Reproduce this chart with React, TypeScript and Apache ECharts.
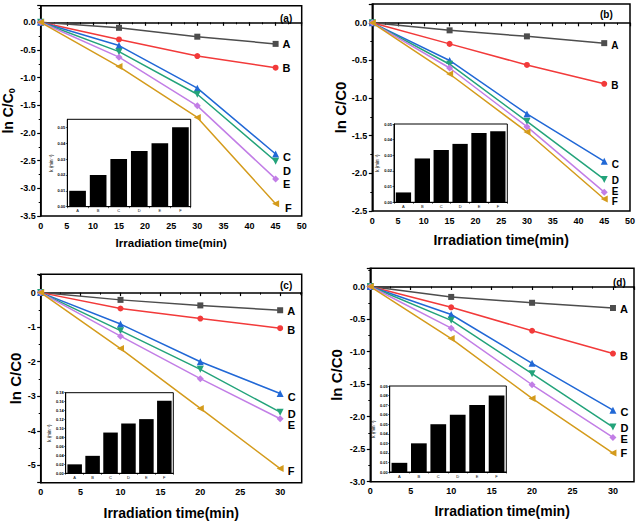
import React, { useEffect, useRef } from 'react';
import * as echarts from 'echarts';

const LETTERS = ['A', 'B', 'C', 'D', 'E', 'F'];
const TIME_AB = [0, 15, 30, 45];
const TIME_CD = [0, 10, 20, 30];

// ln C/C0 values, one row per sample A..F
const LN_A = [
  [0, -0.10, -0.26, -0.39],
  [0, -0.31, -0.61, -0.82],
  [0, -0.42, -1.19, -2.38],
  [0, -0.53, -1.30, -2.51],
  [0, -0.63, -1.51, -2.83],
  [0, -0.80, -1.72, -3.28],
];
const LN_B = [
  [0, -0.10, -0.18, -0.27],
  [0, -0.28, -0.56, -0.81],
  [0, -0.50, -1.21, -1.84],
  [0, -0.55, -1.31, -2.08],
  [0, -0.60, -1.38, -2.25],
  [0, -0.68, -1.45, -2.34],
];
const LN_C = [
  [0, -0.21, -0.37, -0.51],
  [0, -0.46, -0.75, -1.03],
  [0, -0.91, -2.00, -2.92],
  [0, -1.10, -2.22, -3.46],
  [0, -1.26, -2.49, -3.65],
  [0, -1.62, -3.35, -5.09],
];
const LN_D = [
  [0, -0.16, -0.25, -0.33],
  [0, -0.32, -0.68, -1.03],
  [0, -0.43, -1.18, -1.90],
  [0, -0.52, -1.34, -2.16],
  [0, -0.64, -1.51, -2.32],
  [0, -0.80, -1.72, -2.56],
];

// rate constants k (min^-1) for insets
const K_A = [0.010, 0.020, 0.030, 0.035, 0.040, 0.050];
const K_B = [0.0063, 0.028, 0.0334, 0.0373, 0.0442, 0.0453];
const K_C = [0.020, 0.039, 0.091, 0.111, 0.121, 0.162];
const K_D = [0.0096, 0.030, 0.050, 0.060, 0.070, 0.080];

const COLORS = ['#4d4d4d', '#f23a3a', '#2168d6', '#23a37a', '#c27ee6', '#d49b1c'];
const SYMBOLS = [
  'rect',
  'circle',
  'triangle',
  'path://M0,0 L10,0 L5,9 Z',
  'diamond',
  'path://M0,5 L9,0 L9,10 Z',
];
const SYMBOL_SIZES = [6, 6, 7, 7, 7, 7];

const FONT = 'Liberation Sans, Arial, sans-serif';

interface Panel {
  tag: string;
  times: number[];
  ln: number[][];
  k: number[];
  grid: number[];
  inset: number[];
  xMax: number;
  yMin: number;
  yMax: number;
  yInt?: number;
  yDec: number;
  kMax: number;
  kInt: number;
  labelOffsets: number[][];
  labelSize: number;
  tagPos: number[];
  xNameSize: number;
  yNameSize: number;
  xNameGap: number;
  yNameGap: number;
  yName: string;
}

const PANELS: Panel[] = [
  {
    tag: '(a)', times: TIME_AB, ln: LN_A, k: K_A,
    grid: [40.7, 5.7, 261, 210.3], inset: [67.3, 119.3, 123.4, 87.4],
    xMax: 50, yMin: -3.5, yMax: 0.3, yInt: 0.5, yDec: 1, kMax: 0.055, kInt: 0.01,
    labelOffsets: [[0, 0], [0, 0], [0, 3], [0, 10], [0, 5], [2, 4]], labelSize: 11,
    tagPos: [289, 19], xNameSize: 11.5, yNameSize: 14, xNameGap: 21, yNameGap: 18,
    yName: 'ln C/C{s|0}',
  },
  {
    tag: '(b)', times: TIME_AB, ln: LN_B, k: K_B,
    grid: [372.3, 4, 259, 207], inset: [394, 124, 113.3, 78.3],
    xMax: 50, yMin: -2.5, yMax: 0.25, yInt: 0.5, yDec: 1, kMax: 0.05, kInt: 0.01,
    labelOffsets: [[0, 2], [0, 2], [0, 3], [0, 1], [0, -0.5], [0, 3]], labelSize: 10,
    tagPos: [609, 15], xNameSize: 14, yNameSize: 15, xNameGap: 22, yNameGap: 23,
    yName: 'ln C/C0',
  },
  {
    tag: '(c)', times: TIME_CD, ln: LN_C, k: K_C,
    grid: [40.7, 274.3, 261, 208.4], inset: [65.7, 392.7, 107.6, 80.6],
    xMax: 32.7, yMin: -5.5, yMax: 0.53, yDec: 0, kMax: 0.18, kInt: 0.02,
    labelOffsets: [[0, 1], [0, 2], [0, 3], [0, 2], [0, 6], [0, 2]], labelSize: 11,
    tagPos: [289, 286.7], xNameSize: 14, yNameSize: 15, xNameGap: 23, yNameGap: 18,
    yName: 'ln C/C0',
  },
  {
    tag: '(d)', times: TIME_CD, ln: LN_D, k: K_D,
    grid: [370.3, 268.3, 263.7, 213.4], inset: [389.7, 386, 116.6, 86],
    xMax: 32.6, yMin: -3, yMax: 0.28, yInt: 0.5, yDec: 1, kMax: 0.09, kInt: 0.01,
    labelOffsets: [[0, 1], [0, 2], [0, 2], [0, 1], [0, 2], [0, 0]], labelSize: 11,
    tagPos: [622, 283], xNameSize: 14, yNameSize: 15, xNameGap: 22, yNameGap: 26,
    yName: 'ln C/C0',
  },
];

function buildOption() {
  const grids: any[] = [];
  const xAxes: any[] = [];
  const yAxes: any[] = [];
  const series: any[] = [];
  const graphics: any[] = [];

  const axisLine = { show: true, lineStyle: { color: '#000', width: 1.5 } };
  const tick = { show: true, inside: false, length: 3.5, lineStyle: { color: '#000', width: 1.2 } };
  const minor = { show: true, splitNumber: 2, length: 2, lineStyle: { color: '#000', width: 1 } };

  PANELS.forEach((p) => {
    const gi = grids.length;
    grids.push({
      left: p.grid[0], top: p.grid[1], width: p.grid[2], height: p.grid[3],
      show: true, borderColor: '#000', borderWidth: 1.5, backgroundColor: 'transparent',
    });
    xAxes.push({
      type: 'value', gridIndex: gi, min: 0, max: p.xMax, interval: 5,
      axisLine, axisTick: tick, minorTick: minor, splitLine: { show: false },
      axisLabel: {
        color: '#000', fontWeight: 'bold', fontSize: 9, fontFamily: FONT, margin: 5,
        showMaxLabel: p.xMax % 5 === 0,
        formatter: (v: number) => String(Math.round(v)),
      },
      name: 'Irradiation time(min)', nameLocation: 'middle', nameGap: p.xNameGap,
      nameTextStyle: { color: '#000', fontWeight: 'bold', fontSize: p.xNameSize, fontFamily: FONT },
    });
    const yAxis: any = {
      type: 'value', gridIndex: gi, min: p.yMin, max: p.yMax,
      axisLine, axisTick: tick, minorTick: minor, splitLine: { show: false },
      axisLabel: {
        color: '#000', fontWeight: 'bold', fontSize: 9, fontFamily: FONT, margin: 5,
        showMaxLabel: false,
        showMinLabel: p.yInt !== undefined,
        formatter: (v: number) => (Math.abs(v) < 1e-9 ? 0 : v).toFixed(p.yDec),
      },
      name: p.yName, nameLocation: 'middle', nameGap: p.yNameGap, nameRotate: 90,
      nameTextStyle: {
        color: '#000', fontWeight: 'bold', fontSize: p.yNameSize, fontFamily: FONT,
        rich: { s: { fontSize: 9, fontWeight: 'bold', fontFamily: FONT, color: '#000', padding: [7, 0, 0, 0] } },
      },
    };
    if (p.yInt !== undefined) yAxis.interval = p.yInt;
    else yAxis.splitNumber = 6;
    yAxes.push(yAxis);

    p.ln.forEach((row, si) => {
      const last = row.length - 1;
      series.push({
        type: 'line', name: p.tag + LETTERS[si], xAxisIndex: gi, yAxisIndex: gi,
        data: row.map((v, j) => {
          const item: any = { value: [p.times[j], v] };
          if (j === last) {
            item.label = {
              show: true, position: 'right', distance: 4, formatter: LETTERS[si],
              offset: p.labelOffsets[si], color: '#000', fontWeight: 'bold',
              fontSize: p.labelSize, lineHeight: p.labelSize, fontFamily: FONT,
            };
          }
          return item;
        }),
        symbol: SYMBOLS[si], symbolSize: SYMBOL_SIZES[si], showAllSymbol: true,
        itemStyle: { color: COLORS[si] },
        lineStyle: { color: COLORS[si], width: 1.5 },
        z: 3 + si,
      });
    });

    graphics.push({
      type: 'text', left: p.tagPos[0] - 9, top: p.tagPos[1] - 6,
      style: { text: p.tag, fill: '#000', font: `bold 10px ${FONT}` },
    });
  });

  PANELS.forEach((p) => {
    const gi = grids.length;
    grids.push({
      left: p.inset[0], top: p.inset[1], width: p.inset[2], height: p.inset[3],
      show: true, borderColor: '#000', borderWidth: 1, backgroundColor: '#fff', z: 10,
    });
    xAxes.push({
      type: 'category', gridIndex: gi, data: LETTERS, z: 10,
      axisLine: { lineStyle: { color: '#000', width: 1 } },
      axisTick: { show: true, alignWithLabel: false, length: 1.5, lineStyle: { color: '#000', width: 0.6 } },
      axisLabel: { color: '#000', fontSize: 4, fontFamily: FONT, margin: 2 },
    });
    yAxes.push({
      type: 'value', gridIndex: gi, min: 0, max: p.kMax, interval: p.kInt, z: 10,
      axisLine: { show: true, lineStyle: { color: '#000', width: 1 } },
      axisTick: { show: true, length: 1.5, lineStyle: { color: '#000', width: 0.6 } },
      splitLine: { show: false },
      axisLabel: {
        color: '#000', fontSize: 4, fontFamily: FONT, margin: 2, fontWeight: 'bold',
        showMaxLabel: Math.abs(p.kMax / p.kInt - Math.round(p.kMax / p.kInt)) < 1e-6,
        formatter: (v: number) => v.toFixed(2),
      },
      name: 'k (min\u207B\u00B9)', nameLocation: 'middle', nameGap: 10,
      nameTextStyle: { color: '#000', fontSize: 4.5, fontFamily: FONT },
    });
    series.push({
      type: 'bar', xAxisIndex: gi, yAxisIndex: gi, data: p.k,
      barCategoryGap: '19%', itemStyle: { color: '#000' }, z: 11,
    });
  });

  return {
    animation: false,
    backgroundColor: '#fff',
    textStyle: { fontFamily: FONT },
    grid: grids,
    xAxis: xAxes,
    yAxis: yAxes,
    series,
    graphic: graphics,
  };
}

export default function App() {
  const ref = useRef<HTMLDivElement>(null);
  useEffect(() => {
    if (!ref.current) return;
    const chart = echarts.init(ref.current, undefined, { renderer: 'svg' });
    chart.setOption(buildOption());
    return () => chart.dispose();
  }, []);
  return (
    <div
      ref={ref}
      style={{ position: 'absolute', left: 0, top: 0, width: 638, height: 522 }}
    />
  );
}
